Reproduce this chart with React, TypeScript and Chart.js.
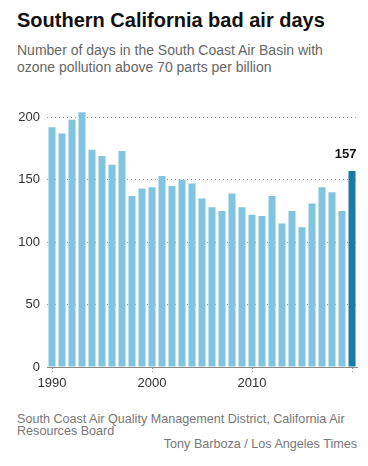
import React, { useEffect, useRef } from "react";
import { Chart, registerables } from "chart.js";

Chart.register(...registerables);

const years: number[] = [
  1990, 1991, 1992, 1993, 1994, 1995, 1996, 1997, 1998, 1999,
  2000, 2001, 2002, 2003, 2004, 2005, 2006, 2007, 2008, 2009,
  2010, 2011, 2012, 2013, 2014, 2015, 2016, 2017, 2018, 2019, 2020,
];
const badDays: number[] = [
  192, 187, 198, 204, 174, 169, 162, 173, 137, 143,
  144, 153, 145, 150, 147, 135, 128, 125, 139, 128,
  122, 121, 137, 115, 125, 112, 131, 144, 140, 125, 157,
];
const yTicks: number[] = [0, 50, 100, 150, 200];
const labelledYears: number[] = [1990, 2000, 2010];
const decadeYears: number[] = [1990, 2000, 2010, 2020];

const LIGHT = "#80c4df";
const DARK = "#1a7ba6";
const FONT = "'Liberation Sans', Arial, sans-serif";

const lastLabelPlugin = {
  id: "lastLabel",
  afterDatasetsDraw(chart: any) {
    const meta = chart.getDatasetMeta(0);
    const i = badDays.length - 1;
    const bar = meta.data[i];
    if (!bar) return;
    const ctx = chart.ctx;
    ctx.save();
    ctx.font = `bold 13px ${FONT}`;
    ctx.fillStyle = "#111";
    ctx.textAlign = "right";
    ctx.textBaseline = "alphabetic";
    ctx.fillText(String(badDays[i]), bar.x + bar.width / 2 + 1, bar.y - 13);
    ctx.restore();
  },
};

export default function App() {
  const ref = useRef<HTMLCanvasElement>(null);

  useEffect(() => {
    document.body.style.margin = "0";
    const canvas = ref.current;
    if (!canvas) return;
    const chart = new Chart(canvas, {
      type: "bar",
      data: {
        labels: years.map(String),
        datasets: [
          {
            data: badDays,
            backgroundColor: badDays.map((_, i) => (i === badDays.length - 1 ? DARK : LIGHT)),
            categoryPercentage: 1,
            barPercentage: 0.7,
            borderWidth: 0,
          },
        ],
      },
      options: {
        animation: false,
        responsive: false,
        maintainAspectRatio: false,
        layout: { padding: { top: 12.4, right: 11, left: 0, bottom: 0 } },
        plugins: {
          legend: { display: false },
          tooltip: { enabled: false },
        },
        scales: {
          x: {
            type: "category",
            offset: true,
            afterFit: (s: any) => {
              s.height = 33;
            },
            grid: {
              offset: false,
              drawOnChartArea: false,
              drawTicks: true,
              tickLength: 6,
              tickBorderDash: [1, 2],
              color: (c: any) =>
                decadeYears.includes(years[c.index]) ? "#999" : "rgba(0,0,0,0)",
            },
            border: { display: true, color: "#8a8a8a", width: 1 },
            ticks: {
              autoSkip: false,
              maxRotation: 0,
              padding: 3,
              color: "#333",
              font: { family: FONT, size: 13 },
              callback: (_v: any, i: number) =>
                labelledYears.includes(years[i]) ? String(years[i]) : "",
            },
          },
          y: {
            min: 0,
            max: 210,
            afterFit: (s: any) => {
              s.width = 47;
            },
            afterBuildTicks: (s: any) => {
              s.ticks = yTicks.map((v) => ({ value: v }));
            },
            grid: {
              drawTicks: false,
              color: "#9a9a9a",
              lineWidth: 1,
            },
            border: { display: false, dash: [1, 3] },
            ticks: {
              padding: 7,
              color: "#333",
              font: { family: FONT, size: 13 },
            },
          },
        },
      },
      plugins: [lastLabelPlugin],
    });
    return () => chart.destroy();
  }, []);

  const abs = (o: React.CSSProperties): React.CSSProperties => ({ position: "absolute", margin: 0, ...o });

  return (
    <div style={{ position: "relative", width: 368, height: 466, background: "#fff", overflow: "hidden", fontFamily: FONT }}>
      <div style={abs({ left: 17, top: 10, fontSize: 20, lineHeight: "20px", fontWeight: "bold", color: "#111", whiteSpace: "nowrap" })}>
        Southern California bad air days
      </div>
      <div style={abs({ left: 17, top: 42, fontSize: 14, lineHeight: "17px", color: "#666", whiteSpace: "nowrap" })}>
        Number of days in the South Coast Air Basin with
        <br />
        ozone pollution above 70 parts per billion
      </div>
      <canvas ref={ref} width={368} height={310} style={abs({ left: 0, top: 90, width: 368, height: 310 })} />
      <div style={abs({ left: 17, top: 413, fontSize: 12.6, lineHeight: "12px", color: "#777", whiteSpace: "nowrap" })}>
        South Coast Air Quality Management District, California Air
        <br />
        Resources Board
      </div>
      <div style={abs({ right: 11, top: 438, fontSize: 12.6, lineHeight: "12px", color: "#777", whiteSpace: "nowrap" })}>
        Tony Barboza / Los Angeles Times
      </div>
    </div>
  );
}
